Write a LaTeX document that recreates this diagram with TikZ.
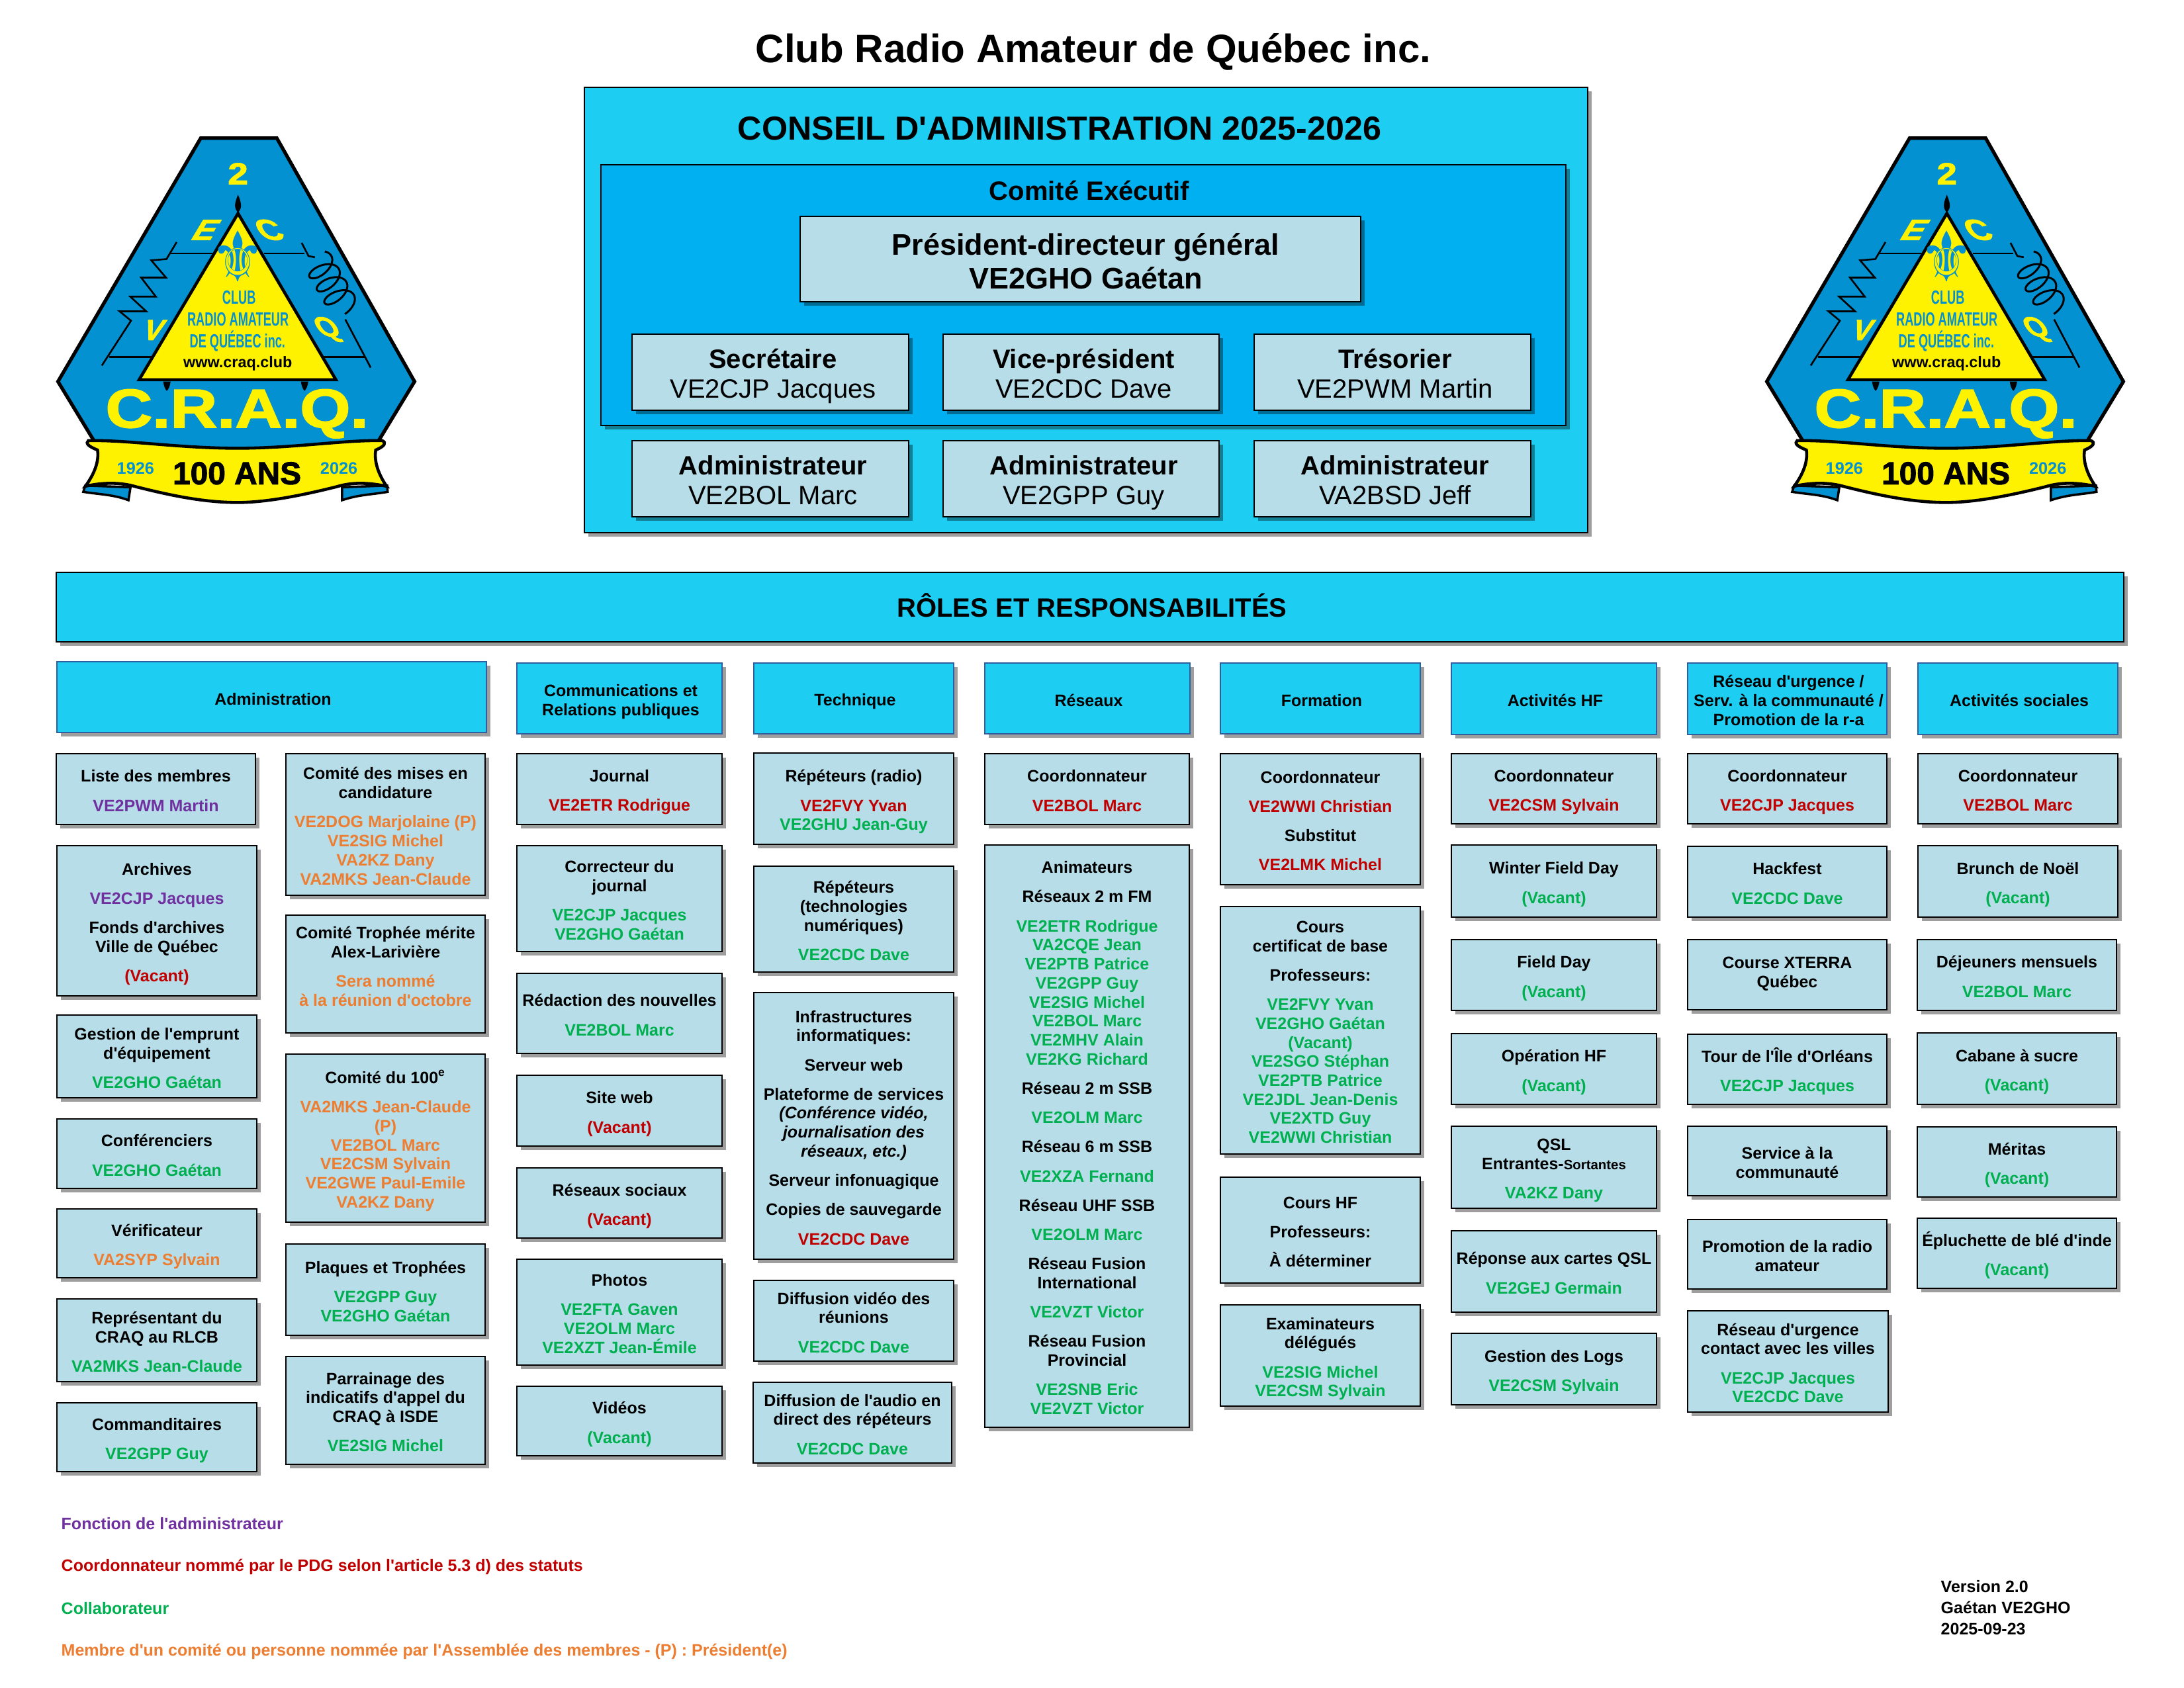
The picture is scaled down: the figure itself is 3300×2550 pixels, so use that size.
\documentclass[tikz,border=0pt]{standalone}
\usepackage{fontspec}
\newfontfamily\craqfont{Liberation Sans}
\newfontfamily\symbfont{DejaVu Sans}
\newfontface\sigfont{Liberation Sans Bold}[FakeBold=2]
\usetikzlibrary{shadows}
\definecolor{fonctioncol}{HTML}{7030A0}
\definecolor{coordocol}{HTML}{C00000}
\definecolor{collabcol}{HTML}{00B050}
\definecolor{membrecol}{HTML}{ED7D31}
\definecolor{entetecol}{HTML}{1ECDF2}
\definecolor{comitecol}{HTML}{00B0F0}
\definecolor{boitecol}{HTML}{B7DDE8}
\definecolor{traitcol}{HTML}{2F5F9E}
\definecolor{logobleu}{HTML}{0391D1}
\definecolor{logojaune}{HTML}{FFF200}
\newcommand{\fonction}[1]{\textcolor{fonctioncol}{#1}}
\newcommand{\coordo}[1]{\textcolor{coordocol}{#1}}
\newcommand{\collab}[1]{\textcolor{collabcol}{#1}}
\newcommand{\membre}[1]{\textcolor{membrecol}{#1}}
\newcommand{\saut}{\\[4.4pt]}
\newcommand{\hautligne}{0pt}
\newcommand{\orgbox}[7]{\node[#1, minimum width={(#4-#2)*0.01cm}, minimum height={(#5-#3)*0.01cm}] (#6) at ({(#2+#4)/2},{(#3+#5)/2}) {\rule{0pt}{\hautligne}#7};}
\tikzset{
	ombre/.style={drop shadow={shadow xshift=0.06cm, shadow yshift=-0.06cm, fill=black, opacity=0.38}},
	strutbox/.style n args={3}{execute at begin node={\def\hautligne{#1}\hspace*{#3}}, execute at end node={\rule[-#2]{0pt}{#2}}},
	rolebox/.style={draw=black, line width=0.6pt, fill=boitecol, inner sep=0pt, align=center, ombre, strutbox={7.97pt}{1.42pt}{0pt}, font=\craqfont\fontsize{7.11}{8.17}\selectfont\bfseries},
	entetebox/.style={rolebox, draw=traitcol, strutbox={7.97pt}{1.42pt}{1.14pt}},
	entetebox/.append style={fill=entetecol},
	bandebox/.style={rolebox, line width=0.5pt, fill=entetecol, strutbox={9.4pt}{0pt}{1.7pt}, font=\craqfont\fontsize{11.38}{13}\selectfont\bfseries},
	cabox/.style={bandebox},
	comitebox/.style={bandebox, fill=comitecol},
	posteb/.style={rolebox, line width=0.5pt, strutbox={11.8pt}{2.56pt}{2.28pt}, font=\craqfont\fontsize{11.38}{12.8}\selectfont\bfseries},
	pdgbox/.style={posteb, strutbox={13.4pt}{0pt}{2.28pt}, font=\craqfont\fontsize{12.8}{14.5}\selectfont\bfseries},
	titretxt/.style={inner sep=0pt, align=center, font=\craqfont\fontsize{#1}{#1}\selectfont\bfseries},
	notetxt/.style={inner sep=0pt, anchor=west, font=\craqfont\fontsize{7.11}{8.17}\selectfont\bfseries},
	logotxt/.style={inner sep=0pt, text=logojaune, font=\craqfont\fontsize{#1}{#1}\selectfont\bfseries},
	sigtxt/.style={inner sep=0pt, text=logojaune, font=\sigfont\fontsize{#1}{#1}\selectfont},
	logofil/.style={draw=black, line width=0.75pt, line join=miter},
}
\newcommand{\craqlogo}[2]{
	\begin{scope}[shift={(60+#1,180)}, x=0.003827cm, y=-0.003827cm]
		\draw[fill=logobleu, line width=1.5pt] (635,75) -- (935,75) -- (1478,1035) -- (1305,1320) -- (245,1320) -- (72,1035) -- cycle;
		%resistance et bobine
		\draw[logofil] (245,972) -- (360,795) -- (315,758) -- (420,758) -- (357,700) -- (458,700) -- (400,625) -- (498,625) -- (440,557) -- (500,552) -- (540,485);
		\draw[logofil] (275,938) -- (440,938) (515,530) -- (680,530) (885,530) -- (1045,530) (1115,938) -- (1285,938);
		\draw[logofil] (1033,488) -- (1060,540) -- (1085,545);
		\draw[logofil, line width=0.85pt] plot[domain=-40:1180, samples=240, smooth, variable=\t] ({1096+0.5*(0.165*(\t+40)+32*sin(\t))+0.866*58*cos(\t)}, {562+0.866*(0.165*(\t+40)+32*sin(\t))-0.5*58*cos(\t)});
		\draw[logofil] (1205,790) -- (1305,980);
		\fill (782,298) .. controls (795,330) and (800,350) .. (782,368) .. controls (764,350) and (769,330) .. (782,298);
		\fill (487,1035) .. controls (490,1055) and (495,1065) .. (501,1072) .. controls (508,1065) and (513,1055) .. (516,1035) -- cycle;
		\fill (1030,1035) .. controls (1033,1055) and (1038,1065) .. (1044,1072) .. controls (1051,1065) and (1056,1055) .. (1059,1035) -- cycle;
		\draw[fill=logojaune, line width=1.3pt, line join=miter] (782,372) -- (1168,1028) -- (392,1028) -- cycle;
		\node[sigtxt=13, xscale=1.2] (#2deux) at (782,215) {2};
		\node[sigtxt=12.5, xslant=0.6, xscale=1.15] (#2e) at (657,437) {E};
		\node[sigtxt=12.5, xslant=-0.6, xscale=1.15] (#2c) at (905,437) {C};
		\node[sigtxt=12.5, xslant=0.35] (#2v) at (452,832) {V};
		\node[sigtxt=12, xslant=-0.6] (#2q) at (1138,830) {Q};
		\node[logotxt=26, text=logobleu, yscale=1.15, font=\symbfont\fontsize{26}{26}\selectfont] (#2lys) at (782,540) {⚜};
		\node[logotxt=8.2, text=logobleu, xscale=0.63] (#2club) at (786,703) {CLUB};
		\node[logotxt=8.2, text=logobleu, xscale=0.63] (#2radio) at (782,790) {RADIO AMATEUR};
		\node[logotxt=8.2, text=logobleu, xscale=0.63] (#2quebec) at (780,875) {DE QUÉBEC inc.};
		\node[logotxt=6.65, text=black] (#2web) at (781,965) {www.craq.club};
		\node[sigtxt=27.3, xscale=1.02, yscale=0.86] (#2sigle) at (778,1162) {C.R.A.Q.};
		%ruban
		\draw[fill=logobleu, line width=1pt] (180,1445) -- (358,1452) -- (350,1503) .. controls (290,1480) and (230,1480) .. (172,1470) -- cycle;
		\draw[fill=logobleu, line width=1pt] (1370,1445) -- (1192,1452) -- (1192,1503) .. controls (1260,1480) and (1320,1480) .. (1372,1470) -- cycle;
		\draw[fill=logojaune, line width=1.3pt] (192,1268) .. controls (350,1265) and (550,1298) .. (780,1298) .. controls (1000,1298) and (1200,1265) .. (1350,1268) .. controls (1368,1275) and (1362,1290) .. (1325,1305) .. controls (1318,1350) and (1335,1400) .. (1368,1448) .. controls (1290,1432) and (1230,1432) .. (1170,1450) .. controls (1050,1480) and (900,1512) .. (780,1512) .. controls (640,1512) and (500,1480) .. (380,1450) .. controls (320,1432) and (250,1432) .. (180,1448) .. controls (215,1400) and (235,1350) .. (228,1305) .. controls (190,1290) and (180,1278) .. (192,1268) -- cycle;
		\node[logotxt=7.2, text=logobleu] (#2debut) at (378,1378) {1926};
		\node[sigtxt=13.6, text=black] (#2cent) at (778,1397) {100 ANS};
		\node[logotxt=7.2, text=logobleu] (#2fin) at (1180,1378) {2026};
	\end{scope}
}

\begin{document}
\begin{tikzpicture}[x=0.01cm, y=-0.01cm]
	\useasboundingbox (0,0) rectangle (3300,2550);
	\node[titretxt=17.07] (titre) at (1652,78) {Club Radio Amateur de Québec inc.};
	\craqlogo{0}{logog}
	\craqlogo{2582}{logod}

	%conseil
	\orgbox{cabox}{883}{132}{2399}{805}{conseil}{}
	\node[titretxt=14.3] (conseiltxt) at (1601,194) {CONSEIL D'ADMINISTRATION 2025-2026};
	\orgbox{comitebox}{908}{249}{2366}{643}{comite}{}
	\node[titretxt=11.38] (comitetxt) at (1646,288) {Comité Exécutif};
	\orgbox{pdgbox}{1209}{327}{2056}{456}{pdg}{Président-directeur général\\VE2GHO Gaétan}
	\orgbox{posteb}{955}{505}{1373}{620}{secretaire}{Secrétaire\\\mdseries VE2CJP Jacques}
	\orgbox{posteb}{1425}{505}{1842}{620}{vicepres}{Vice-président\\\mdseries VE2CDC Dave}
	\orgbox{posteb}{1895}{505}{2313}{620}{tresorier}{Trésorier\\\mdseries VE2PWM Martin}
	\orgbox{posteb}{955}{666}{1373}{781}{adminun}{Administrateur\\\mdseries VE2BOL Marc}
	\orgbox{posteb}{1425}{666}{1842}{781}{admindeux}{Administrateur\\\mdseries VE2GPP Guy}
	\orgbox{posteb}{1895}{666}{2313}{781}{admintrois}{Administrateur\\\mdseries VA2BSD Jeff}

	\orgbox{bandebox}{85}{865}{3209}{970}{roles}{RÔLES ET RESPONSABILITÉS}

	%entetes
	\orgbox{entetebox}{86}{1000}{735}{1107}{eadmin}{Administration}
	\orgbox{entetebox}{781}{1002}{1091}{1109}{ecomm}{Communications et\\Relations publiques}
	\orgbox{entetebox}{1139}{1002}{1441}{1109}{etech}{Technique}
	\orgbox{entetebox}{1488}{1002}{1798}{1109}{ereseaux}{Réseaux}
	\orgbox{entetebox}{1844}{1002}{2146}{1109}{eform}{Formation}
	\orgbox{entetebox}{2193}{1002}{2503}{1110}{ehf}{Activités HF}
	\orgbox{entetebox}{2550}{1002}{2851}{1110}{eurg}{Réseau d'urgence /\\Serv. à la communauté /\\Promotion de la r-a}
	\orgbox{entetebox}{2898}{1002}{3200}{1110}{esoc}{Activités sociales}

	%administration
	\orgbox{rolebox}{85}{1139}{386}{1246}{liste}{Liste des membres\saut\fonction{VE2PWM Martin}}
	\orgbox{rolebox}{86}{1278}{388}{1505}{archives}{Archives\saut\fonction{VE2CJP Jacques}\saut Fonds d'archives\\Ville de Québec\saut\coordo{(Vacant)}}
	\orgbox{rolebox}{86}{1534}{388}{1659}{emprunt}{Gestion de l'emprunt\\d'équipement\saut\collab{VE2GHO Gaétan}}
	\orgbox{rolebox}{86}{1691}{388}{1796}{conf}{Conférenciers\saut\collab{VE2GHO Gaétan}}
	\orgbox{rolebox}{86}{1827}{388}{1931}{verif}{Vérificateur\saut\membre{VA2SYP Sylvain}}
	\orgbox{rolebox}{86}{1963}{388}{2088}{rlcb}{Représentant du\\CRAQ au RLCB\saut\collab{VA2MKS Jean-Claude}}
	\orgbox{rolebox}{86}{2120}{388}{2224}{comman}{Commanditaires\saut\collab{VE2GPP Guy}}
	\orgbox{rolebox}{432}{1139}{733}{1353}{mises}{Comité des mises en\\candidature\saut\membre{VE2DOG Marjolaine (P)}\\\membre{VE2SIG Michel}\\\membre{VA2KZ Dany}\\\membre{VA2MKS Jean-Claude}}
	\orgbox{rolebox}{432}{1383}{733}{1561}{trophee}{Comité Trophée mérite\\Alex-Larivière\saut\membre{Sera nommé}\\\membre{à la réunion d'octobre}\\~}
	\orgbox{rolebox}{432}{1593}{733}{1847}{cent}{Comité du 100\textsuperscript{e}\saut\membre{VA2MKS Jean-Claude}\\\membre{(P)}\\\membre{VE2BOL Marc}\\\membre{VE2CSM Sylvain}\\\membre{VE2GWE Paul-Emile}\\\membre{VA2KZ Dany}}
	\orgbox{rolebox}{432}{1880}{733}{2018}{plaques}{Plaques et Trophées\saut\collab{VE2GPP Guy}\\\collab{VE2GHO Gaétan}}
	\orgbox{rolebox}{432}{2050}{733}{2213}{parrain}{Parrainage des\\indicatifs d'appel du\\CRAQ à ISDE\saut\collab{VE2SIG Michel}}

	%communications
	\orgbox{rolebox}{781}{1139}{1091}{1246}{journal}{Journal\saut\coordo{VE2ETR Rodrigue}}
	\orgbox{rolebox}{781}{1278}{1091}{1438}{correct}{Correcteur du\\journal\saut\collab{VE2CJP Jacques}\\\collab{VE2GHO Gaétan}}
	\orgbox{rolebox}{781}{1471}{1091}{1592}{redac}{Rédaction des nouvelles\saut\collab{VE2BOL Marc}}
	\orgbox{rolebox}{781}{1625}{1091}{1732}{siteweb}{Site web\saut\coordo{(Vacant)}}
	\orgbox{rolebox}{781}{1765}{1091}{1871}{sociaux}{Réseaux sociaux\saut\coordo{(Vacant)}}
	\orgbox{rolebox}{781}{1903}{1091}{2063}{photos}{Photos\saut\collab{VE2FTA Gaven}\\\collab{VE2OLM Marc}\\\collab{VE2XZT Jean-Émile}}
	\orgbox{rolebox}{781}{2095}{1091}{2200}{videos}{Vidéos\saut\collab{(Vacant)}}

	%technique
	\orgbox{rolebox}{1139}{1138}{1441}{1276}{reprad}{Répéteurs (radio)\saut\coordo{VE2FVY Yvan}\\\collab{VE2GHU Jean-Guy}}
	\orgbox{rolebox}{1139}{1309}{1441}{1469}{repnum}{Répéteurs\\(technologies\\numériques)\saut\collab{VE2CDC Dave}}
	\orgbox{rolebox}{1139}{1500}{1441}{1903}{infra}{Infrastructures\\informatiques:\saut Serveur web\saut Plateforme de services\\\textit{(Conférence vidéo,}\\\textit{journalisation des}\\\textit{réseaux, etc.)}\saut Serveur infonuagique\saut Copies de sauvegarde\saut\coordo{VE2CDC Dave}}
	\orgbox{rolebox}{1139}{1935}{1441}{2057}{dvideo}{Diffusion vidéo des\\réunions\saut\collab{VE2CDC Dave}}
	\orgbox{rolebox}{1138}{2089}{1438}{2211}{daudio}{Diffusion de l'audio en\\direct des répéteurs\saut\collab{VE2CDC Dave}}

	%reseaux
	\orgbox{rolebox}{1488}{1139}{1797}{1246}{coordres}{Coordonnateur\saut\coordo{VE2BOL Marc}}
	\orgbox{rolebox}{1488}{1277}{1797}{2157}{anim}{Animateurs\saut Réseaux 2 m FM\saut\collab{VE2ETR Rodrigue}\\\collab{VA2CQE Jean}\\\collab{VE2PTB Patrice}\\\collab{VE2GPP Guy}\\\collab{VE2SIG Michel}\\\collab{VE2BOL Marc}\\\collab{VE2MHV Alain}\\\collab{VE2KG Richard}\saut Réseau 2 m SSB\saut\collab{VE2OLM Marc}\saut Réseau 6 m SSB\saut\collab{VE2XZA Fernand}\saut Réseau UHF SSB\saut\collab{VE2OLM Marc}\saut Réseau Fusion\\International\saut\collab{VE2VZT Victor}\saut Réseau Fusion\\Provincial\saut\collab{VE2SNB Eric}\\\collab{VE2VZT Victor}}

	%formation
	\orgbox{rolebox}{1844}{1139}{2146}{1337}{coordform}{Coordonnateur\saut\coordo{VE2WWI Christian}\saut Substitut\saut\coordo{VE2LMK Michel}}
	\orgbox{rolebox}{1844}{1370}{2146}{1744}{coursbase}{Cours\\certificat de base\saut Professeurs:\saut\collab{VE2FVY Yvan}\\\collab{VE2GHO Gaétan}\\\collab{(Vacant)}\\\collab{VE2SGO Stéphan}\\\collab{VE2PTB Patrice}\\\collab{VE2JDL Jean-Denis}\\\collab{VE2XTD Guy}\\\collab{VE2WWI Christian}}
	\orgbox{rolebox}{1844}{1779}{2146}{1939}{courshf}{Cours HF\saut Professeurs:\saut À déterminer}
	\orgbox{rolebox}{1844}{1972}{2146}{2125}{exam}{Examinateurs\\délégués\saut\collab{VE2SIG Michel}\\\collab{VE2CSM Sylvain}}

	%activites hf
	\orgbox{rolebox}{2193}{1139}{2503}{1245}{coordhf}{Coordonnateur\saut\coordo{VE2CSM Sylvain}}
	\orgbox{rolebox}{2193}{1277}{2503}{1386}{winter}{Winter Field Day\saut\collab{(Vacant)}}
	\orgbox{rolebox}{2193}{1420}{2503}{1527}{field}{Field Day\saut\collab{(Vacant)}}
	\orgbox{rolebox}{2193}{1562}{2503}{1669}{operhf}{Opération HF\saut\collab{(Vacant)}}
	\orgbox{rolebox}{2193}{1702}{2503}{1826}{qsl}{QSL\\Entrantes-{\fontsize{5.8}{8.17}\selectfont Sortantes}\saut\collab{VA2KZ Dany}}
	\orgbox{rolebox}{2193}{1860}{2503}{1983}{cartes}{Réponse aux cartes QSL\saut\collab{VE2GEJ Germain}}
	\orgbox{rolebox}{2193}{2015}{2503}{2123}{logs}{Gestion des Logs\saut\collab{VE2CSM Sylvain}}

	%urgence
	\orgbox{rolebox}{2550}{1139}{2851}{1245}{coordurg}{Coordonnateur\saut\coordo{VE2CJP Jacques}}
	\orgbox{rolebox}{2550}{1279}{2851}{1386}{hackfest}{Hackfest\saut\collab{VE2CDC Dave}}
	\orgbox{rolebox}{2550}{1420}{2851}{1526}{xterra}{Course XTERRA\\Québec\rule[-5pt]{0pt}{5pt}}
	\orgbox{rolebox}{2550}{1563}{2851}{1669}{tour}{Tour de l'Île d'Orléans\saut\collab{VE2CJP Jacques}}
	\orgbox{rolebox}{2550}{1702}{2851}{1807}{service}{Service à la\\communauté}
	\orgbox{rolebox}{2550}{1843}{2851}{1948}{promo}{Promotion de la radio\\amateur}
	\orgbox{rolebox}{2550}{1981}{2853}{2134}{villes}{Réseau d'urgence\\contact avec les villes\saut\collab{VE2CJP Jacques}\\\collab{VE2CDC Dave}}

	%sociales
	\orgbox{rolebox}{2898}{1139}{3200}{1245}{coordsoc}{Coordonnateur\saut\coordo{VE2BOL Marc}}
	\orgbox{rolebox}{2898}{1278}{3200}{1386}{brunch}{Brunch de Noël\saut\collab{(Vacant)}}
	\orgbox{rolebox}{2897}{1420}{3198}{1527}{dejeuner}{Déjeuners mensuels\saut\collab{VE2BOL Marc}}
	\orgbox{rolebox}{2897}{1561}{3198}{1669}{cabane}{Cabane à sucre\saut\collab{(Vacant)}}
	\orgbox{rolebox}{2897}{1703}{3198}{1809}{meritas}{Méritas\saut\collab{(Vacant)}}
	\orgbox{rolebox}{2897}{1841}{3198}{1947}{epluch}{Épluchette de blé d'inde\saut\collab{(Vacant)}}

	%legende et version
	\node[notetxt, text=fonctioncol] (legendun) at (92,2303) {Fonction de l'administrateur};
	\node[notetxt, text=coordocol] (legenddeux) at (92,2368) {Coordonnateur nommé par le PDG selon l'article 5.3 d) des statuts};
	\node[notetxt, text=collabcol] (legendtrois) at (92,2431) {Collaborateur};
	\node[notetxt, text=membrecol] (legendquatre) at (92,2496) {Membre d'un comité ou personne nommée par l'Assemblée des membres - (P) : Président(e)};
	\node[notetxt, align=left, font=\craqfont\fontsize{7.11}{9.1}\selectfont\bfseries] (version) at (2932,2430) {Version 2.0\\Gaétan VE2GHO\\2025-09-23};
\end{tikzpicture}
\end{document}
